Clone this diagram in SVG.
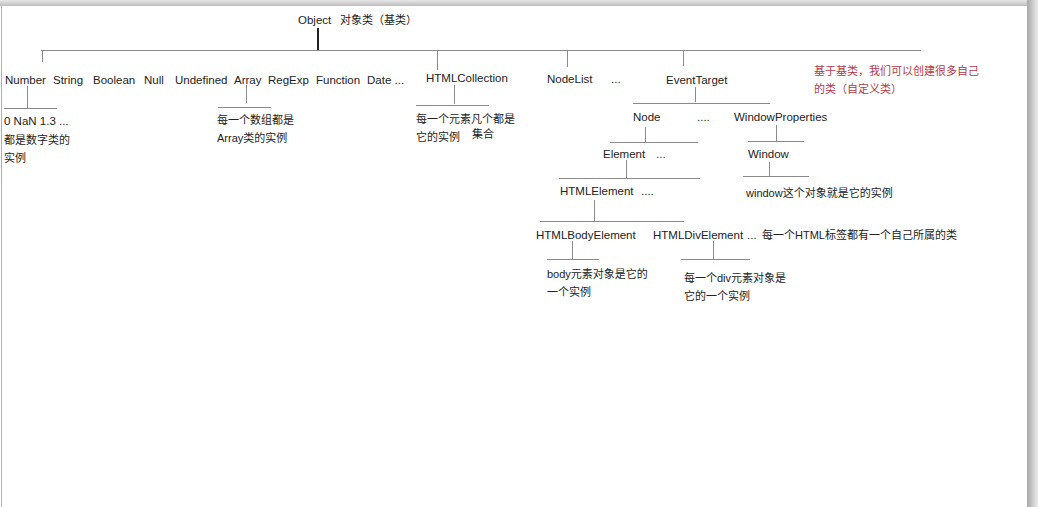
<svg xmlns="http://www.w3.org/2000/svg" width="1038" height="507" viewBox="0 0 1038 507">
<defs>
<linearGradient id="gTop" x1="0" y1="0" x2="0" y2="1">
<stop offset="0" stop-color="#e6e6e6"/>
<stop offset="1" stop-color="#bdbdbd"/>
</linearGradient>
<linearGradient id="gRight" x1="0" y1="0" x2="1" y2="0">
<stop offset="0" stop-color="#a8a8a8"/>
<stop offset="1" stop-color="#ececec"/>
</linearGradient>
<style>
.t{font-family:"Liberation Sans","Noto Sans CJK SC",sans-serif;font-size:11.5px;fill:#222}
.c{font-family:"Liberation Sans","Noto Sans CJK SC",sans-serif;font-size:11px;fill:#222}
.r{font-family:"Liberation Sans","Noto Sans CJK SC",sans-serif;font-size:11px;fill:#b03a48}
.ln{stroke:#8a8a8a;stroke-width:1;fill:none}
</style>
</defs>
<rect x="0" y="0" width="1038" height="507" fill="#ffffff"/>
<rect x="0" y="0" width="1038" height="6" fill="url(#gTop)"/>
<rect x="1027" y="0" width="11" height="507" fill="url(#gRight)"/>
<line x1="1.5" y1="6" x2="1.5" y2="507" stroke="#b0b0b0" stroke-width="1"/>

<g id="connectors">
<line x1="318" y1="28" x2="318" y2="50" stroke="#222" stroke-width="2"/>
<path class="ln" d="M41 50.5H921"/>
<path class="ln" d="M42.5 50V62"/>
<path class="ln" d="M437.5 50V70"/>
<path class="ln" d="M567.5 50V67"/>
<path class="ln" d="M683.5 50V66"/>
<path class="ln" d="M27.5 86V108M4 108.5H57"/>
<path class="ln" d="M246.5 85V103M218 107.5H271"/>
<path class="ln" d="M454.5 85V104M416 105.5H489"/>
<path class="ln" d="M695.5 87V102M633 103.5H770"/>
<path class="ln" d="M645.5 127V142M610 142.5H698"/>
<path class="ln" d="M776.5 125V141M748 141.5H804"/>
<path class="ln" d="M626.5 160V178M559 178.5H700"/>
<path class="ln" d="M769.5 162V176M743 176.5H809"/>
<path class="ln" d="M594.5 200V221M540 221.5H684"/>
<path class="ln" d="M572.5 241V259M547 259.5H599"/>
<path class="ln" d="M713.5 241V259M681 259.5H750"/>
</g>

<g id="object"><text class="t" x="298" y="24">Object</text><text class="c" x="340" y="24">对象类（基类）</text></g>

<g id="number"><text class="t" x="5" y="84">Number</text></g>
<g id="string"><text class="t" x="53" y="84">String</text></g>
<g id="boolean"><text class="t" x="93" y="84">Boolean</text></g>
<g id="null"><text class="t" x="144" y="84">Null</text></g>
<g id="undefined"><text class="t" x="175" y="84">Undefined</text></g>
<g id="array"><text class="t" x="234" y="84">Array</text></g>
<g id="regexp"><text class="t" x="268" y="84">RegExp</text></g>
<g id="function"><text class="t" x="316" y="84">Function</text></g>
<g id="date"><text class="t" x="367" y="84">Date ...</text></g>

<g id="number-instances">
<text class="t" x="4" y="125">0 NaN 1.3 ...</text>
<text class="c" x="4" y="144">都是数字类的</text>
<text class="c" x="4" y="162">实例</text>
</g>
<g id="array-instances">
<text class="c" x="217" y="124">每一个数组都是</text>
<text class="c" x="217" y="142">Array类的实例</text>
</g>

<g id="htmlcollection"><text class="t" x="426" y="82">HTMLCollection</text></g>
<g id="htmlcollection-instances">
<text class="c" x="416" y="123">每一个元素凡个都是</text>
<text class="c" x="416" y="141">它的实例</text>
<text class="c" x="472" y="138">集合</text>
</g>

<g id="nodelist"><text class="t" x="547" y="83">NodeList</text><text class="t" x="611" y="83">...</text></g>
<g id="eventtarget"><text class="t" x="666" y="84">EventTarget</text></g>
<g id="note-custom">
<text class="r" x="814" y="75">基于基类，我们可以创建很多自己</text>
<text class="r" x="814" y="93">的类（自定义类）</text>
</g>

<g id="node"><text class="t" x="633" y="121">Node</text><text class="t" x="697" y="121">....</text></g>
<g id="windowproperties"><text class="t" x="734" y="121">WindowProperties</text></g>
<g id="element"><text class="t" x="603" y="158">Element</text><text class="t" x="656" y="158">...</text></g>
<g id="window"><text class="t" x="748" y="158">Window</text></g>
<g id="window-instance"><text class="c" x="746" y="197">window这个对象就是它的实例</text></g>
<g id="htmlelement"><text class="t" x="560" y="195">HTMLElement</text><text class="t" x="641" y="195">....</text></g>
<g id="htmlbodyelement"><text class="t" x="536" y="239">HTMLBodyElement</text></g>
<g id="htmldivelement"><text class="t" x="653" y="239">HTMLDivElement</text><text class="t" x="747" y="239">...</text></g>
<g id="note-html"><text class="c" x="762" y="239">每一个HTML标签都有一个自己所属的类</text></g>
<g id="body-instance">
<text class="c" x="547" y="278">body元素对象是它的</text>
<text class="c" x="547" y="296">一个实例</text>
</g>
<g id="div-instance">
<text class="c" x="684" y="282">每一个div元素对象是</text>
<text class="c" x="684" y="300">它的一个实例</text>
</g>
</svg>
